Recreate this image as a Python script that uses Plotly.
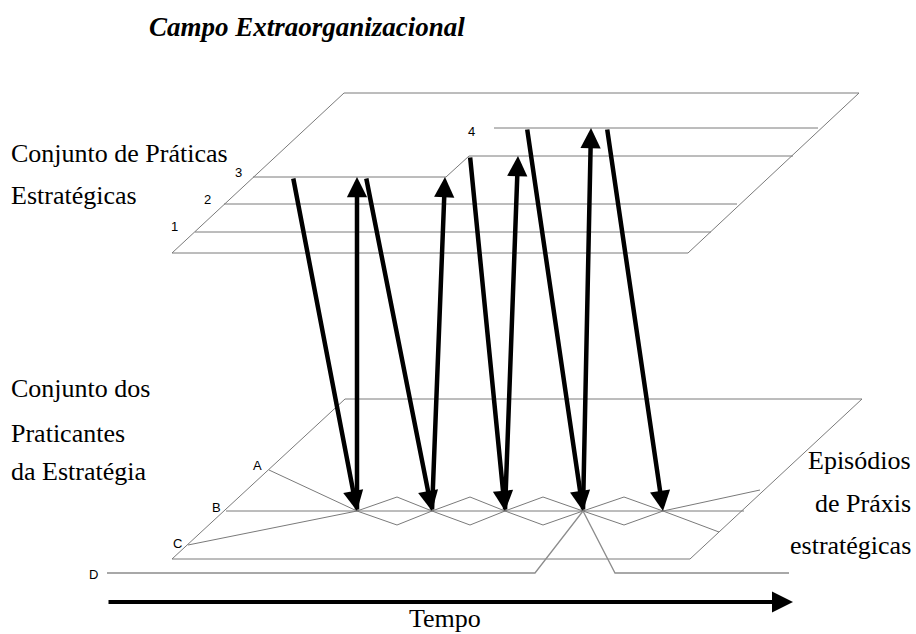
import plotly.graph_objects as go

# ---- geometry of the diagram (page-pixel coordinates, y grows downward) ----
upper_plane_x = [172, 688, 859, 344, 172]
upper_plane_y = [253, 253, 93, 93, 253]

practice_lines = {
    "1": ([195, 711], [232, 232]),
    "2": ([224, 737], [204, 204]),
    "3": ([253, 446, 469, 793], [177, 177, 156, 156]),
    "4": ([494, 818], [128, 128]),
}
practice_label_x = [174, 207, 238, 471]
practice_label_y = [226, 199, 172, 131]
practice_label_text = ["1", "2", "3", "4"]

lower_plane_x = [172, 690, 862, 345, 172]
lower_plane_y = [559, 559, 399, 399, 559]

line_A_x = [269, 357]
line_A_y = [470, 511]
line_B_x = [226, 744]
line_B_y = [511, 511]
line_C_x = [188, 357]
line_C_y = [545, 511]
zig_up_x = [357, 397, 432, 470, 505, 543, 583, 624, 663, 760]
zig_up_y = [511, 497, 511, 497, 511, 497, 511, 497, 511, 490]
zig_dn_x = [357, 397, 432, 470, 505, 543, 583, 624, 663, 719]
zig_dn_y = [511, 525, 511, 525, 511, 525, 511, 525, 511, 532]
line_D_x = [107, 535, 583, 615, 789]
line_D_y = [573, 573, 511, 573, 573]

letter_label_text = ["A", "B", "C", "D"]
letter_label_x = [257, 216, 177, 93]
letter_label_y = [465, 507, 543, 574]

# thick arrows: tail (x0,y0) -> head (x1,y1)
arrow_x0 = [293, 357, 366, 432, 470, 505, 527, 583, 607]
arrow_y0 = [177, 511, 177, 511, 156, 511, 128, 511, 128]
arrow_x1 = [357, 357, 432, 445, 505, 518, 583, 591, 663]
arrow_y1 = [511, 177, 511, 177, 511, 156, 511, 128, 511]

time_arrow_x = [107, 793]
time_arrow_y = [602, 602]

title_text = "Campo Extraorganizacional"
left_top_labels = ["Conjunto de Práticas", "Estratégicas"]
left_top_y = [153, 195]
left_bottom_labels = ["Conjunto dos", "Praticantes", "da Estratégia"]
left_bottom_y = [388, 433, 471]
right_labels = ["Episódios", "de Práxis", "estratégicas"]
right_labels_y = [460, 503, 545]

GRAY = "#7a7a7a"
SERIF = "Liberation Serif, Times New Roman, serif"
SANS = "Liberation Sans, Arial, sans-serif"

FIG_W, FIG_H = 916, 634

fig = go.Figure()


def add_line(xs, ys, color=GRAY, width=1):
    fig.add_trace(go.Scatter(x=xs, y=ys, mode="lines",
                             line=dict(color=color, width=width),
                             hoverinfo="skip", showlegend=False))


add_line(upper_plane_x, upper_plane_y)
for k, (xs, ys) in practice_lines.items():
    add_line(xs, ys)
add_line(lower_plane_x, lower_plane_y)
add_line(line_A_x, line_A_y)
add_line(line_B_x, line_B_y)
add_line(line_C_x, line_C_y)
add_line(zig_up_x, zig_up_y)
add_line(zig_dn_x, zig_dn_y)
add_line(line_D_x, line_D_y, color="#8c8c8c", width=1.3)

annotations = []
for x0, y0, x1, y1 in zip(arrow_x0, arrow_y0, arrow_x1, arrow_y1):
    annotations.append(dict(
        x=x1, y=y1, ax=x0, ay=y0, xref="x", yref="y", axref="x", ayref="y",
        text="", showarrow=True, arrowhead=2, arrowsize=0.9, arrowwidth=4.5,
        arrowcolor="black", standoff=0, startstandoff=0))

annotations.append(dict(
    x=time_arrow_x[1], y=time_arrow_y[1], ax=time_arrow_x[0], ay=time_arrow_y[0],
    xref="x", yref="y", axref="x", ayref="y", text="", showarrow=True,
    arrowhead=2, arrowsize=1.05, arrowwidth=4, arrowcolor="black",
    standoff=0, startstandoff=0))

for t, x, y in zip(practice_label_text, practice_label_x, practice_label_y):
    annotations.append(dict(x=x, y=y, xref="x", yref="y", text=t, showarrow=False,
                            font=dict(family=SANS, size=13, color="black"),
                            xanchor="center", yanchor="middle"))
for t, x, y in zip(letter_label_text, letter_label_x, letter_label_y):
    annotations.append(dict(x=x, y=y, xref="x", yref="y", text=t, showarrow=False,
                            font=dict(family=SANS, size=13, color="black"),
                            xanchor="center", yanchor="middle"))

annotations.append(dict(x=147, y=27, xref="x", yref="y",
                        text="<b><i>" + title_text + "</i></b>", showarrow=False,
                        font=dict(family=SERIF, size=27, color="black"),
                        xanchor="left", yanchor="middle"))
for t, y in zip(left_top_labels, left_top_y):
    annotations.append(dict(x=9, y=y, xref="x", yref="y", text=t, showarrow=False,
                            font=dict(family=SERIF, size=26, color="black"),
                            xanchor="left", yanchor="middle"))
for t, y in zip(left_bottom_labels, left_bottom_y):
    annotations.append(dict(x=9, y=y, xref="x", yref="y", text=t, showarrow=False,
                            font=dict(family=SERIF, size=26, color="black"),
                            xanchor="left", yanchor="middle"))
for t, y in zip(right_labels, right_labels_y):
    annotations.append(dict(x=913, y=y, xref="x", yref="y", text=t, showarrow=False,
                            font=dict(family=SERIF, size=26, color="black"),
                            xanchor="right", yanchor="middle"))
annotations.append(dict(x=445, y=618, xref="x", yref="y", text="Tempo", showarrow=False,
                        font=dict(family=SERIF, size=26, color="black"),
                        xanchor="center", yanchor="middle"))

fig.update_layout(
    width=FIG_W, height=FIG_H,
    margin=dict(l=0, r=0, t=0, b=0, pad=0),
    paper_bgcolor="white", plot_bgcolor="white",
    showlegend=False,
    xaxis=dict(range=[0, FIG_W], visible=False, fixedrange=True),
    yaxis=dict(range=[FIG_H, 0], visible=False, fixedrange=True),
    annotations=annotations,
)

fig.write_html(
    "out.html",
    config={"displayModeBar": False},
    post_script="document.body.style.margin='0';document.body.style.overflow='hidden';",
)
